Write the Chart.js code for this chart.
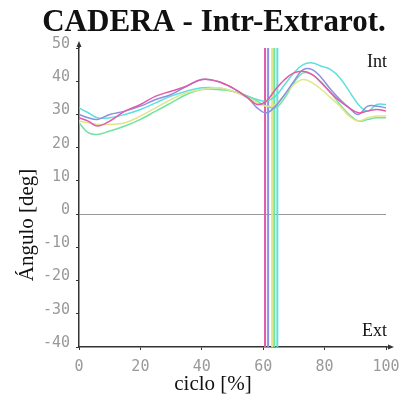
<!DOCTYPE html>
<html>
<head>
<meta charset="utf-8">
<script src="https://cdn.jsdelivr.net/npm/chart.js@4"></script>
<style>
  body { margin: 0; background: #fff; }
  #wrap { width: 411px; height: 410px; }
</style>
</head>
<body>
<div id="wrap"><canvas id="grafico"></canvas></div>
<script>
// ciclo [%]
const ciclo = [0, 3, 6, 10, 15, 20, 25, 30, 35, 40, 45, 50, 55, 58, 61, 64, 67, 70, 73, 76, 79, 82, 85, 88, 91, 94, 97, 100]

const serieMagenta = [29, 28, 26.5, 28, 31, 33, 35.5, 37, 38.5, 40.5, 40, 38, 35, 33, 34, 37.5, 40.5, 42.5, 43, 42, 39.5, 36.5, 34, 32, 30.5, 31, 31.5, 31]
const serieAzul = [30, 29, 28.5, 30, 31, 32.5, 34.5, 36, 38.5, 40.5, 40, 38, 35, 32, 30.5, 32.5, 36, 40, 43.5, 43.5, 41, 37.5, 34.5, 32, 30, 32.5, 32.5, 32]
const serieAmarilla = [28, 27.5, 27, 27, 27.5, 29.5, 32, 34.5, 36.5, 37.5, 38, 37, 35, 33.5, 32.5, 33, 36, 39, 40.5, 39.5, 37.5, 35, 32.5, 29.5, 28, 29, 29.5, 29.5]
const serieVerde = [27.5, 24.5, 24, 25, 26.5, 28.5, 31, 33.5, 36, 37.5, 37.5, 37, 35.5, 34, 32.5, 32, 35, 39.5, 42.5, 42, 39.5, 36.5, 33, 30, 28, 28.5, 29, 29]
const serieCian = [32, 30.5, 29, 29, 30, 31.5, 33.5, 35.5, 37, 38, 38, 37, 35.5, 34.5, 34, 35.5, 39, 42.5, 45, 45.5, 44.5, 43.5, 41, 37, 33, 31, 33, 33]

// fin de apoyo (lineas verticales)
const cortes = [60.6, 61.6, 62.9, 63.6, 64.6]

const yTicks = [-40, -30, -20, -10, 0, 10, 20, 30, 40, 50]
const xTicks = [0, 20, 40, 60, 80, 100]

const colores = ['#e25aa8', '#8a90e2', '#dfe68c', '#72e2a2', '#5fe0dc']
const series = [serieMagenta, serieAzul, serieAmarilla, serieVerde, serieCian]

let datasets = []
series.forEach(function(serie, i){
    datasets.push({
        data: serie.map(function(v, j){ return {x: ciclo[j], y: v} }),
        borderColor: colores[i],
        borderWidth: 1.5,
        pointRadius: 0,
        tension: 0.4,
        fill: false
    })
})
cortes.forEach(function(c, i){
    datasets.push({
        data: [{x: c, y: -40}, {x: c, y: 50}],
        borderColor: colores[i],
        borderWidth: 2,
        pointRadius: 0,
        fill: false
    })
})

const serif = "'Liberation Serif', 'DejaVu Serif', serif"
const mono = "'DejaVu Sans Mono', monospace"

const extras = {
    id: 'extras',
    afterDraw(chart) {
        const ctx = chart.ctx
        const a = chart.chartArea
        ctx.save()
        // flechas de los ejes
        ctx.strokeStyle = '#333'
        ctx.fillStyle = '#333'
        ctx.lineWidth = 1.5
        ctx.beginPath()
        ctx.moveTo(a.left, a.top)
        ctx.lineTo(a.left, a.top - 3)
        ctx.moveTo(a.right, a.bottom)
        ctx.lineTo(a.right + 4, a.bottom)
        ctx.stroke()
        ctx.beginPath()
        ctx.moveTo(a.left, a.top - 7)
        ctx.lineTo(a.left - 2.5, a.top - 1)
        ctx.lineTo(a.left + 2.5, a.top - 1)
        ctx.fill()
        ctx.beginPath()
        ctx.moveTo(a.right + 8, a.bottom)
        ctx.lineTo(a.right + 2, a.bottom - 2.5)
        ctx.lineTo(a.right + 2, a.bottom + 2.5)
        ctx.fill()
        // textos
        ctx.fillStyle = '#111'
        ctx.textBaseline = 'alphabetic'
        ctx.textAlign = 'center'
        ctx.font = 'bold 31px ' + serif
        ctx.fillText('CADERA - Intr-Extrarot.', 214, 31)
        ctx.font = '21px ' + serif
        ctx.textBaseline = 'middle'
        ctx.fillText('ciclo [%]', 213, 384)
        ctx.font = '18px ' + serif
        ctx.textAlign = 'right'
        ctx.fillText('Int', a.right + 1, 62)
        ctx.fillText('Ext', a.right + 1, 331)
        ctx.translate(27, 225)
        ctx.rotate(-Math.PI / 2)
        ctx.textAlign = 'center'
        ctx.font = '21px ' + serif
        ctx.fillText('Ángulo [deg]', 0, 0)
        ctx.restore()
    }
}

new Chart(document.getElementById('grafico').getContext('2d'), {
    type: 'line',
    data: { datasets: datasets },
    options: {
        responsive: true,
        maintainAspectRatio: false,
        animation: false,
        layout: { padding: { left: 0, right: 25, top: 48, bottom: 0 } },
        plugins: {
            legend: { display: false },
            tooltip: { enabled: false },
            title: { display: false }
        },
        scales: {
            x: {
                type: 'linear',
                min: 0,
                max: 100,
                afterBuildTicks: function(scale){ scale.ticks = xTicks.map(function(v){ return {value: v} }) },
                afterFit: function(scale){ scale.height = 63 },
                border: { color: '#333', width: 1.5 },
                grid: { drawOnChartArea: false, tickColor: '#333', tickLength: 3 },
                ticks: { color: '#999', font: { family: mono, size: 15 }, padding: 8, maxRotation: 0 }
            },
            y: {
                min: -40,
                max: 50,
                afterBuildTicks: function(scale){ scale.ticks = yTicks.map(function(v){ return {value: v} }) },
                afterFit: function(scale){ scale.width = 79 },
                border: { color: '#333', width: 1.5 },
                grid: {
                    color: function(c){ return c.tick && c.tick.value === 0 ? '#999' : 'rgba(0,0,0,0)' },
                    tickColor: '#333',
                    tickLength: 3
                },
                ticks: { color: '#999', font: { family: mono, size: 15 }, padding: 6, labelOffset: -4 }
            }
        }
    },
    plugins: [extras]
})
</script>
</body>
</html>
